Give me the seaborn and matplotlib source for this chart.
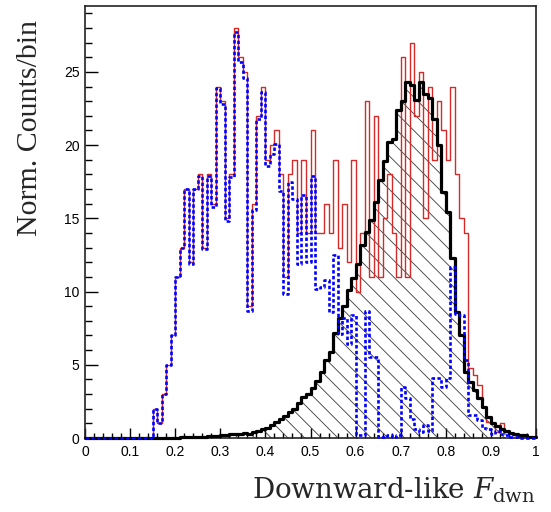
import numpy as np
import pandas as pd
import matplotlib
matplotlib.use('Agg')
import matplotlib.pyplot as plt
from matplotlib.ticker import MultipleLocator, FuncFormatter
import seaborn as sns

# 100 bins between 0 and 1
bin_lo = 0.0
bin_hi = 1.0
n_bins = 100

# total (red solid)
red = [0, 0, 0, 0, 0, 0, 0, 0, 0, 0,
       0, 0, 0, 0, 0, 2.0, 1.0, 3.0, 5.0, 7.0,
       11.0, 13.0, 17.0, 12.0, 17.0, 18.0, 13.0, 18.0, 16.0, 24.0,
       23.0, 15.0, 18.0, 28.0, 26.0, 25.0, 9.0, 16.0, 22.0, 24.0,
       19.0, 20.0, 21.0, 18.0, 11.0, 18.0, 19.0, 14.0, 19.0, 14.0,
       21.0, 14.0, 14.0, 16.0, 14.0, 19.0, 13.0, 16.0, 12.0, 19.0,
       10.0, 14.0, 23.0, 11.0, 22.0, 11.0, 15.0, 18.0, 14.0, 11.0,
       26.0, 11.0, 27.0, 22.0, 25.0, 15.0, 24.0, 19.0, 23.0, 21.0,
       19.0, 24.0, 18.0, 15.0, 14.0, 4.8, 4.3, 3.6, 2.1, 1.1,
       1.0, 0.4, 1.0, 0.4, 0.3, 0.2, 0.1, 0.1, 0.0, 0.0]

# blue dashed component
blue = [0, 0, 0, 0, 0, 0, 0, 0, 0, 0,
        0, 0, 0, 0, 0, 2.0, 1.0, 3.0, 5.0, 7.0,
        11.0, 13.0, 17.0, 11.9, 17.0, 17.9, 12.9, 17.9, 15.8, 23.9,
        22.8, 14.8, 17.8, 27.7, 25.7, 24.6, 8.7, 15.6, 21.8, 23.6,
        18.6, 19.4, 20.1, 16.9, 9.8, 17.5, 16.3, 11.9, 16.6, 12.0,
        17.9, 10.2, 10.3, 10.8, 8.6, 12.5, 7.1, 8.2, 6.4, 8.4,
        0.2, 0.2, 8.7, 5.5, 5.5, 0.1, 0.1, 0.2, 0.1, 0.2,
        3.5, 2.7, 1.3, 0.6, 0.4, 0.9, 0.5, 4.1, 4.1, 3.5,
        4.1, 11.7, 8.5, 8.4, 5.3, 1.6, 1.6, 1.2, 0.7, 0.6,
        0.3, 0.5, 0.3, 0.2, 0.1, 0.1, 0, 0, 0, 0]

# black hatched component
black = [0, 0, 0, 0, 0, 0, 0, 0, 0, 0,
         0, 0, 0, 0, 0, 0, 0, 0, 0, 0,
         0.03, 0.05, 0.05, 0.06, 0.08, 0.1, 0.1, 0.12, 0.15, 0.15,
         0.2, 0.2, 0.25, 0.3, 0.3, 0.35, 0.3, 0.4, 0.5, 0.6,
         0.7, 0.9, 1.1, 1.3, 1.5, 1.8, 2.0, 2.4, 2.8, 3.0,
         3.4, 3.9, 4.5, 5.3, 5.9, 7.2, 8.2, 9.0, 10.1, 10.9,
         11.9, 13.2, 14.1, 14.9, 16.1, 17.6, 18.9, 20.2, 20.4, 22.4,
         23.0, 24.3, 24.1, 23.1, 24.3, 23.5, 23.2, 21.8, 20.0, 16.8,
         15.4, 12.3, 8.6, 7.0, 4.5, 3.8, 3.3, 2.7, 2.1, 1.4,
         1.0, 0.8, 0.6, 0.5, 0.35, 0.3, 0.2, 0.2, 0.1, 0.1]

x_label = 'Downward-like $F_{\\mathrm{dwn}}$'
y_label = 'Norm. Counts/bin'

sns.set_style('ticks')
plt.rcParams['font.family'] = ['Liberation Sans', 'DejaVu Sans']
plt.rcParams['mathtext.fontset'] = 'dejavuserif'
plt.rcParams['hatch.linewidth'] = 0.6

edges = np.linspace(bin_lo, bin_hi, n_bins + 1)
centers = 0.5 * (edges[:-1] + edges[1:])
df = pd.DataFrame({'x': centers, 'red': red, 'blue': blue, 'black': black})

fig = plt.figure(figsize=(5.51, 5.12), dpi=100)
ax = fig.add_axes([85 / 551, 1 - 438 / 512, 451 / 551, 432 / 512])

# hatched fill under the black histogram
ax.fill_between(edges, np.append(black, black[-1]), step='post',
                facecolor='none', edgecolor='#3a3a3a', hatch='\\\\',
                linewidth=0, zorder=1)

hist_opts = dict(x='x', bins=n_bins, binrange=(bin_lo, bin_hi),
                 element='step', fill=False, ax=ax)
sns.histplot(data=df, weights='red', color='#d42a2a', linewidth=1.0,
             zorder=2, **hist_opts)
sns.histplot(data=df, weights='black', color='black', linewidth=2.3,
             zorder=3, clip_on=False, **hist_opts)
sns.histplot(data=df, weights='blue', color='#0000ff', linewidth=1.9,
             dashes=(1.3, 0.9), zorder=4, clip_on=False, **hist_opts)

ax.set_xlim(bin_lo, bin_hi)
ax.set_ylim(0, 29.5)
ax.set_xlabel('')
ax.set_ylabel('')

ax.xaxis.set_major_locator(MultipleLocator(0.1))
ax.xaxis.set_minor_locator(MultipleLocator(0.02))
ax.yaxis.set_major_locator(MultipleLocator(5))
ax.yaxis.set_minor_locator(MultipleLocator(1))
ax.xaxis.set_major_formatter(FuncFormatter(lambda v, p: '%g' % round(v, 2)))
ax.yaxis.set_major_formatter(FuncFormatter(lambda v, p: '%g' % v))

ax.tick_params(which='both', direction='in', top=False, right=False,
               labelsize=10, width=1.0, colors='black')
ax.tick_params(axis='y', which='major', length=9, pad=4)
ax.tick_params(axis='y', which='minor', length=5)
ax.tick_params(axis='x', which='major', length=7, pad=5)
ax.tick_params(axis='x', which='minor', length=3.5)
for s in ax.spines.values():
    s.set_linewidth(1.2)
    s.set_color('#222222')

fig.text(30 / 551, 1 - 20 / 512, y_label, rotation=90, ha='center', va='top',
         fontsize=21.5, family='Liberation Serif')
fig.text(535 / 551, 1 - 490 / 512, x_label, ha='right', va='center',
         fontsize=20, family='DejaVu Serif')

fig.savefig('out.png', dpi=100, facecolor='white')
